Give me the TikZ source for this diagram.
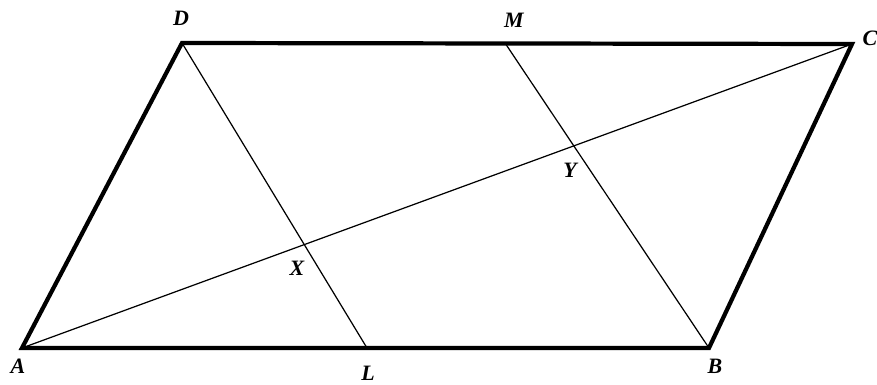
\documentclass[tikz,border=0pt]{standalone}
\usepackage{fontspec}
\setmainfont{Liberation Serif}
\usepackage{tikz}
\tikzset{
  side/.style={line width=2.4pt, line join=miter, line cap=butt},
  cutline/.style={line width=0.7pt},
  ptlabel/.style={font=\fontsize{12.5}{14}\selectfont\bfseries\itshape, inner sep=0pt},
}
\begin{document}
\begin{tikzpicture}[x=0.02cm, y=-0.02cm]
  \useasboundingbox (0,0) rectangle (877,385);
  \coordinate (A) at (22,348);
  \coordinate (B) at (709,348);
  \coordinate (C) at (852,44);
  \coordinate (D) at (182,43);
  \coordinate (M) at (505,43);
  \coordinate (L) at (367,348);
  \coordinate (X) at (intersection of D--L and A--C);
  \coordinate (Y) at (intersection of M--B and A--C);
  \draw[side] (A) -- (B) -- (C) -- (D) -- cycle;
  \foreach \a/\b in {D/L,M/B,A/C}
    \draw[cutline] (\a) -- (\b);
  \node[ptlabel] (lA) at (18,366) {A};
  \node[ptlabel] (lB) at (715,366) {B};
  \node[ptlabel] (lC) at (870,38) {C};
  \node[ptlabel] (lD) at (181,18) {D};
  \node[ptlabel] (lM) at (514,20) {M};
  \node[ptlabel] (lL) at (368,373) {L};
  \node[ptlabel] (lX) at (297,268) {X};
  \node[ptlabel] (lY) at (570,170) {Y};
\end{tikzpicture}
\end{document}
